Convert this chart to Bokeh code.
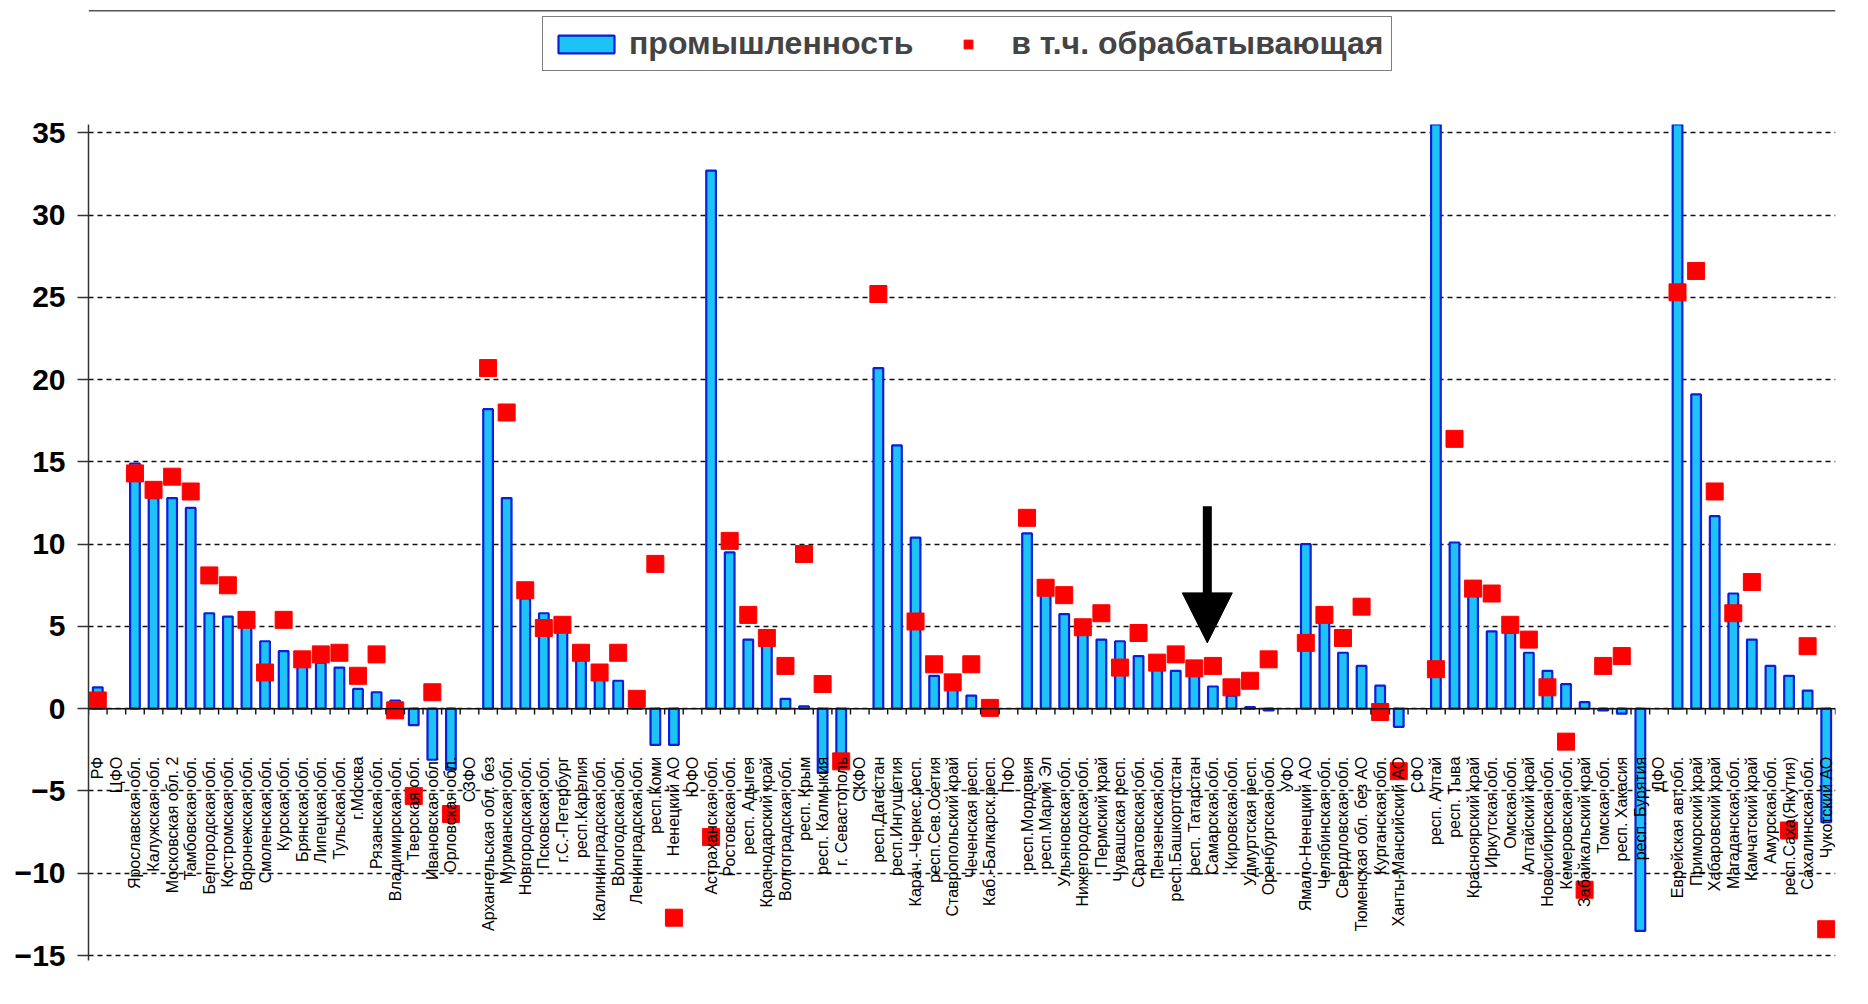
import math
from bokeh.plotting import figure
from bokeh.layouts import column
from bokeh.models import (Range1d, FixedTicker, Legend, LegendItem, Span, Arrow, NormalHead)
from bokeh.core.properties import value
from bokeh.embed import file_html
from bokeh.resources import INLINE

nan = float("nan")

regions = [
    "РФ", "ЦФО", "Ярославская обл.", "Калужская обл.", "Московская обл. 2", "Тамбовская обл.",
    "Белгородская обл.", "Костромская обл.", "Воронежская обл.", "Смоленская обл.", "Курская обл.",
    "Брянская обл.", "Липецкая обл.", "Тульская обл.", "г.Москва", "Рязанская обл.",
    "Владимирская обл.", "Тверская обл.", "Ивановская обл.", "Орловская обл.", "СЗФО",
    "Архангельская обл. без", "Мурманская обл.", "Новгородская обл.", "Псковская обл.",
    "г.С.-Петербург", "респ.Карелия", "Калининградская обл.", "Вологодская обл.",
    "Ленинградская обл.", "респ.Коми", "Ненецкий АО", "ЮФО", "Астраханская обл.",
    "Ростовская обл.", "респ. Адыгея", "Краснодарский край", "Волгоградская обл.", "респ. Крым",
    "респ. Калмыкия", "г. Севастополь", "СКФО", "респ.Дагестан", "респ.Ингушетия",
    "Карач.-Черкес.респ.", "респ.Сев.Осетия", "Ставропольский край", "Чеченская респ.",
    "Каб.-Балкарск.респ.", "ПФО", "респ.Мордовия", "респ.Марий Эл", "Ульяновская обл.",
    "Нижегородская обл.", "Пермский край", "Чувашская респ.", "Саратовская обл.",
    "Пензенская обл.", "респ.Башкортостан", "респ. Татарстан", "Самарская обл.",
    "Кировская обл.", "Удмуртская респ.", "Оренбургская обл.", "УФО", "Ямало-Ненецкий АО",
    "Челябинская обл.", "Свердловская обл.", "Тюменская обл. без АО", "Курганская обл.",
    "Ханты-Мансийский АО", "СФО", "респ. Алтай", "респ. Тыва", "Красноярский край",
    "Иркутская обл.", "Омская обл.", "Алтайский край", "Новосибирская обл.",
    "Кемеровская обл.", "Забайкальский край", "Томская обл.", "респ. Хакасия",
    "респ. Бурятия", "ДФО", "Еврейская авт.обл.", "Приморский край", "Хабаровский край",
    "Магаданская обл.", "Камчатский край", "Амурская обл.", "респ.Саха(Якутия)",
    "Сахалинская обл.", "Чукотский АО",
]

industry = [
    1.3, nan, 14.9, 12.8, 12.8, 12.2, 5.8, 5.6, 5.2, 4.1, 3.5,
    3.3, 2.8, 2.5, 1.2, 1.0, 0.5, -1.0, -3.1, -3.7, nan,
    18.2, 12.8, 6.7, 5.8, 5.0, 3.2, 2.1, 1.7, 0.7, -2.2, -2.2, nan,
    32.7, 9.5, 4.2, 4.2, 0.6, 0.15, -3.9, -3.2, nan,
    20.7, 16.0, 10.4, 2.0, 1.3, 0.8, 0.05, nan,
    10.65, 7.3, 5.75, 5.1, 4.2, 4.1, 3.2, 2.4, 2.3, 2.0, 1.35, 0.8, 0.1, -0.1, nan,
    10.0, 5.3, 3.4, 2.6, 1.4, -1.1, nan,
    38.0, 10.1, 6.9, 4.7, 4.6, 3.4, 2.3, 1.5, 0.4, -0.1, -0.3, -13.5, nan,
    38.0, 19.1, 11.7, 7.0, 4.2, 2.6, 2.0, 1.1, -6.9,
]

manufacturing = [
    0.5, nan, 14.3, 13.3, 14.1, 13.2, 8.1, 7.5, 5.4, 2.2, 5.4,
    3.0, 3.3, 3.4, 2.0, 3.3, -0.1, -5.3, 1.0, -6.4, nan,
    20.7, 18.0, 7.2, 4.9, 5.1, 3.4, 2.2, 3.4, 0.6, 8.8, -12.7, nan,
    -7.8, 10.2, 5.7, 4.3, 2.6, 9.4, 1.5, -3.2, nan,
    25.2, nan, 5.3, 2.7, 1.6, 2.7, 0.05, nan,
    11.6, 7.35, 6.9, 4.95, 5.8, 2.5, 4.6, 2.8, 3.3, 2.45, 2.6, 1.3, 1.7, 3.0, nan,
    4.0, 5.7, 4.3, 6.2, -0.2, -3.8, nan,
    2.4, 16.4, 7.3, 7.0, 5.1, 4.2, 1.3, -2.0, -11.0, 2.6, 3.2, nan, nan,
    25.3, 26.6, 13.2, 5.8, 7.7, nan, -7.4, 3.8, -13.4,
]

y_ticks = [-15, -10, -5, 0, 5, 10, 15, 20, 25, 30, 35]
series_names = ["промышленность", "в т.ч. обрабатывающая"]

# arrow annotation (pointing at Samara region)
ARROW_X = 59.7
ARROW_Y_START = 12.3
ARROW_Y_END = 4.0

BAR_FILL = "#1EC3F5"
BAR_LINE = "#0A1EDC"
DOT_COLOR = "#FF0000"

n = len(regions)
xs = list(range(n))

# ---------------- header strip with legend ----------------
head = figure(width=1860, height=114, output_backend="svg", toolbar_location=None,
              x_range=Range1d(0, 1), y_range=Range1d(0, 1),
              x_axis_location=None, y_axis_location=None, min_border=0)
head.outline_line_color = None
head.grid.visible = False
head.add_layout(Span(location=0.91, dimension="width", line_color="#555555", line_width=1.5))

# legend proxies (tiny, hidden beneath the opaque legend box)
lb = head.vbar(x=[0.5], top=[0.6], bottom=[0.55], width=0.02,
               fill_color=BAR_FILL, line_color=BAR_LINE, line_width=2.2)
ld = head.scatter(x=[0.5], y=[0.58], marker="square", size=10,
                  fill_color=DOT_COLOR, line_color=DOT_COLOR)

legend = Legend(items=[LegendItem(label=series_names[0], renderers=[lb]),
                       LegendItem(label=series_names[1], renderers=[ld])],
                orientation="horizontal", location=(454, 43))
legend.label_text_font = "Liberation Sans"
legend.label_text_font_style = "bold"
legend.label_text_font_size = "32px"
legend.glyph_width = 70
legend.glyph_height = 22
legend.spacing = 20
legend.padding = 8
legend.margin = 0
legend.label_standoff = 8
legend.border_line_color = "black"
legend.border_line_width = 1.5
legend.background_fill_color = "white"
legend.background_fill_alpha = 1
head.add_layout(legend, "center")

# ---------------- main chart ----------------
p = figure(width=1860, height=886, output_backend="svg", toolbar_location=None,
           x_range=Range1d(-0.5, n - 0.5), y_range=Range1d(-15.3, 35.5),
           min_border_left=88, min_border_right=25, min_border_top=10, min_border_bottom=40)
p.outline_line_color = None
p.background_fill_color = "white"
p.border_fill_color = "white"

p.xaxis.visible = False
p.xgrid.visible = False
p.ygrid.ticker = FixedTicker(ticks=y_ticks)
p.ygrid.grid_line_color = "#111111"
p.ygrid.grid_line_dash = "5 4"
p.ygrid.grid_line_width = 1.4

ya = p.yaxis[0]
ya.ticker = FixedTicker(ticks=y_ticks)
ya.major_label_text_font = "Liberation Sans"
ya.major_label_text_font_style = "bold"
ya.major_label_text_font_size = "30px"
ya.major_label_text_color = "black"
ya.major_tick_out = 11
ya.major_tick_in = 0
ya.minor_tick_line_color = None
ya.axis_line_color = "#333333"
ya.axis_line_width = 1.5
ya.major_tick_line_color = "#333333"
ya.major_tick_line_width = 1.5
ya.major_label_standoff = 12

p.vbar(x=xs, top=industry, bottom=0, width=0.52,
       fill_color=BAR_FILL, line_color=BAR_LINE, line_width=2.2)
p.scatter(x=xs, y=manufacturing, marker="square", size=17,
          fill_color=DOT_COLOR, line_color=DOT_COLOR)

# zero line and category ticks
p.add_layout(Span(location=0, dimension="width", line_color="#111111", line_width=1.6))
bounds = [i - 0.5 for i in range(n + 1)]
p.segment(x0=bounds, y0=[0] * len(bounds), x1=bounds, y1=[-0.35] * len(bounds),
          line_color="#111111", line_width=1.4)

# category labels, rotated, hanging below zero line
p.text(x=xs, y=[0] * n, text=regions, angle=math.pi / 2, text_align="right",
       text_baseline="middle", y_offset=48, text_font=value("Liberation Sans"),
       text_font_size="16px", text_color="black")

p.add_layout(Arrow(end=NormalHead(size=50, fill_color="black", line_color="black"),
                   x_start=ARROW_X, y_start=ARROW_Y_START, x_end=ARROW_X, y_end=ARROW_Y_END,
                   line_width=9, line_color="black"))

layout = column(head, p, spacing=0)
open("out.html", "w").write(file_html(layout, INLINE))
